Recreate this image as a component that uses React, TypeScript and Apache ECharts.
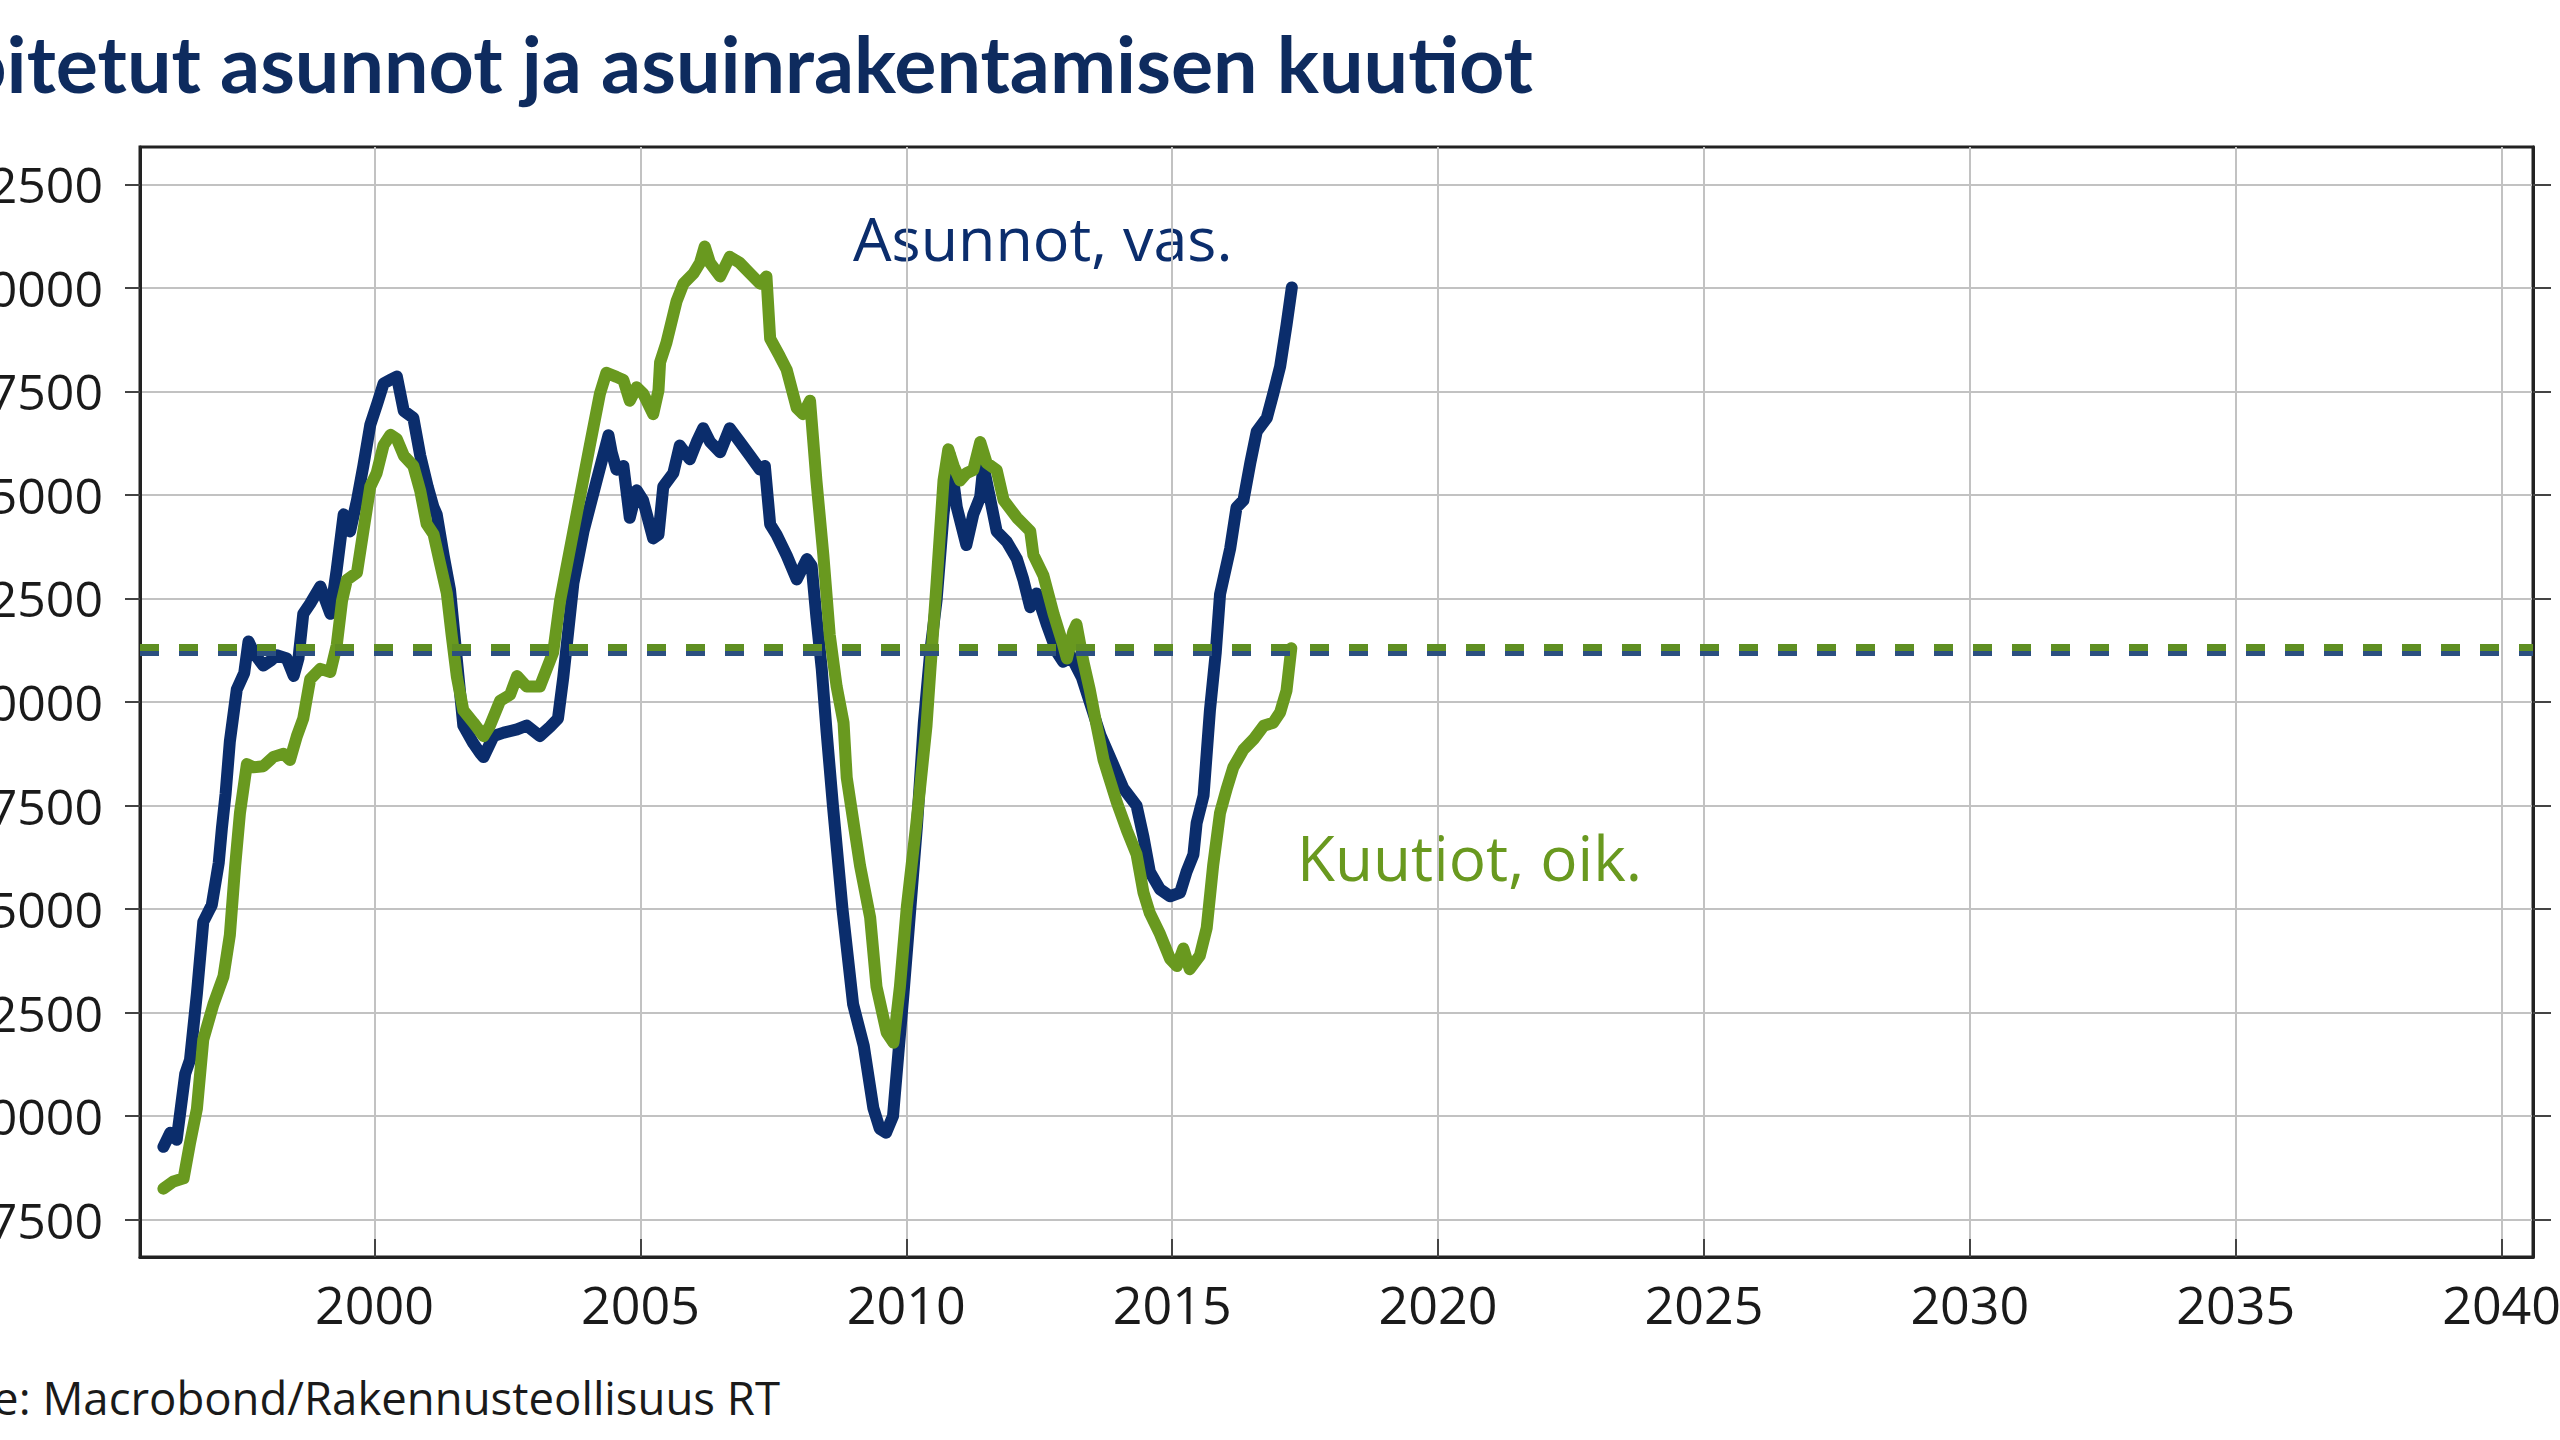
import React, { useEffect, useRef } from "react";
import * as echarts from "echarts";

// Aloitetut asunnot (12 kk summa), vasen akseli
const asunnotYears = [
  1996.03, 1996.16, 1996.28, 1996.44, 1996.53, 1996.66, 1996.78, 1996.94, 1997.07, 1997.13,
  1997.2, 1997.28, 1997.41, 1997.55, 1997.63, 1997.75, 1997.91, 1998.05, 1998.16, 1998.35,
  1998.48, 1998.57, 1998.66, 1998.79, 1998.98, 1999.17, 1999.29, 1999.42, 1999.54, 1999.67,
  1999.79, 1999.92, 2000.05, 2000.17, 2000.3, 2000.42, 2000.55, 2000.73, 2000.86, 2001.0,
  2001.11, 2001.17, 2001.3, 2001.42, 2001.55, 2001.67, 2001.86, 2001.99, 2002.05, 2002.24,
  2002.43, 2002.68, 2002.86, 2003.11, 2003.3, 2003.45, 2003.55, 2003.74, 2003.93, 2004.18,
  2004.4, 2004.46, 2004.55, 2004.68, 2004.8, 2004.93, 2005.05, 2005.24, 2005.34, 2005.43,
  2005.62, 2005.74, 2005.93, 2006.06, 2006.18, 2006.31, 2006.5, 2006.68, 2006.87, 2007.06,
  2007.25, 2007.34, 2007.44, 2007.56, 2007.75, 2007.94, 2008.13, 2008.22, 2008.31, 2008.41,
  2008.5, 2008.62, 2008.8, 2009.0, 2009.2, 2009.38, 2009.5, 2009.62, 2009.75, 2009.85,
  2009.95, 2010.05, 2010.2, 2010.33, 2010.45, 2010.57, 2010.7, 2010.82, 2010.95, 2011.13,
  2011.26, 2011.39, 2011.45, 2011.57, 2011.7, 2011.89, 2012.08, 2012.2, 2012.33, 2012.45,
  2012.64, 2012.83, 2012.95, 2013.1, 2013.3, 2013.5, 2013.65, 2013.83, 2014.08, 2014.33,
  2014.46, 2014.58, 2014.77, 2014.96, 2015.15, 2015.27, 2015.4, 2015.46, 2015.59, 2015.71,
  2015.82, 2015.9, 2016.09, 2016.21, 2016.34, 2016.47, 2016.59, 2016.78, 2016.9, 2017.03,
  2017.15, 2017.25,
];
const asunnotValues = [
  19260, 19600, 19430, 21020, 21360, 22960, 24690, 25100, 26110, 26950,
  27790, 29050, 30300, 30700, 31460, 31150, 30880, 31000, 31130, 31050,
  30630, 31050, 32130, 32375, 32790, 32130, 33200, 34530, 34120, 34870,
  35700, 36690, 37200, 37690, 37780, 37860, 37030, 36860, 35950, 35200,
  34700, 34530, 33540, 32710, 31000, 29430, 29000, 28760, 28670, 29180,
  29260, 29340, 29430, 29180, 29400, 29600, 30600, 32870, 34120, 35360,
  36440, 36030, 35610, 35700, 34450, 35110, 34870, 33950, 34040, 35200,
  35530, 36190, 35860, 36280, 36610, 36280, 36030, 36610, 36280, 35950,
  35610, 35700, 34290, 34040, 33540, 32960, 33450, 33290, 32040, 30800,
  29300, 27500, 25000, 22700, 21700, 20200, 19700, 19600, 20000, 21500,
  23000, 24600, 27000, 29500, 31210, 32460, 34530, 35950, 34700, 33790,
  34530, 34950, 35700, 34950, 34120, 33870, 33450, 32960, 32290, 32620,
  31880, 31210, 30970, 31100, 30600, 29800, 29200, 28670, 27920, 27500,
  26740, 25900, 25480, 25310, 25400, 25900, 26320, 27080, 27740, 29800,
  31200, 32600, 33700, 34700, 34870, 35780, 36530, 36860, 37440, 38100,
  39100, 40010,
];

// Asuinrakentamisen kuutiot (12 kk summa), oikea akseli
const kuutiotYears = [
  1996.03, 1996.22, 1996.41, 1996.53, 1996.66, 1996.78, 1996.97, 1997.16, 1997.28, 1997.38,
  1997.47, 1997.6, 1997.72, 1997.91, 1998.1, 1998.29, 1998.41, 1998.54, 1998.66, 1998.79,
  1998.98, 1999.17, 1999.29, 1999.39, 1999.48, 1999.67, 1999.79, 1999.92, 2000.04, 2000.17,
  2000.3, 2000.42, 2000.55, 2000.73, 2000.86, 2000.98, 2001.11, 2001.24, 2001.36, 2001.45,
  2001.55, 2001.67, 2001.86, 2002.05, 2002.17, 2002.36, 2002.55, 2002.68, 2002.86, 2003.11,
  2003.36, 2003.49, 2003.74, 2004.05, 2004.24, 2004.36, 2004.55, 2004.68, 2004.8, 2004.93,
  2005.05, 2005.24, 2005.34, 2005.37, 2005.49, 2005.68, 2005.81, 2006.0, 2006.12, 2006.21,
  2006.31, 2006.5, 2006.68, 2006.87, 2007.06, 2007.25, 2007.37, 2007.44, 2007.62, 2007.75,
  2007.94, 2008.06, 2008.19, 2008.31, 2008.44, 2008.56, 2008.69, 2008.82, 2008.88, 2009.13,
  2009.32, 2009.44, 2009.63, 2009.76, 2009.88, 2010.01, 2010.19, 2010.38, 2010.45, 2010.57,
  2010.7, 2010.79, 2010.89, 2011.01, 2011.13, 2011.26, 2011.39, 2011.51, 2011.7, 2011.83,
  2012.08, 2012.33, 2012.39, 2012.58, 2012.77, 2012.95, 2013.02, 2013.14, 2013.2, 2013.33,
  2013.45, 2013.58, 2013.71, 2013.96, 2014.15, 2014.33, 2014.46, 2014.58, 2014.77, 2014.96,
  2015.09, 2015.21, 2015.33, 2015.52, 2015.65, 2015.77, 2015.9, 2016.03, 2016.15, 2016.34,
  2016.53, 2016.72, 2016.9, 2017.03, 2017.15, 2017.24,
];
const kuutiotValues = [
  7300, 7370, 7400, 7740, 8070, 8740, 9080, 9350, 9750, 10420,
  10930, 11400, 11370, 11380, 11470, 11500, 11440, 11670, 11840, 12220,
  12320, 12290, 12550, 12980, 13180, 13250, 13650, 14080, 14210, 14480,
  14580, 14540, 14380, 14280, 14040, 13720, 13620, 13320, 13050, 12650,
  12240, 11920, 11800, 11670, 11770, 12010, 12070, 12250, 12150, 12150,
  12480, 12980, 13650, 14480, 14980, 15180, 15140, 15110, 14910, 15040,
  14980, 14780, 15010, 15280, 15470, 15870, 16040, 16140, 16240, 16400,
  16240, 16110, 16300, 16240, 16140, 16040, 16110, 15510, 15340, 15210,
  14840, 14780, 14910, 14140, 13420, 12650, 12150, 11800, 11270, 10420,
  9920, 9250, 8810, 8710, 9250, 10020, 10830, 11770, 12290, 13150,
  14140, 14440, 14280, 14140, 14210, 14240, 14510, 14310, 14240, 13950,
  13780, 13650, 13420, 13220, 12850, 12550, 12420, 12680, 12750, 12390,
  12120, 11770, 11440, 11030, 10760, 10530, 10160, 9960, 9760, 9520,
  9450, 9620, 9420, 9550, 9820, 10420, 10930, 11170, 11370, 11540,
  11640, 11770, 11800, 11900, 12110, 12520,
];

// Pitkän aikavälin keskiarvot (katkoviivat)
const asunnotMean = 31200;
const kuutiotMean = 12530;

const leftTicks = [17500, 20000, 22500, 25000, 27500, 30000, 32500, 35000, 37500, 40000, 42500];
const rightTicks = [7000, 8000, 9000, 10000, 11000, 12000, 13000, 14000, 15000, 16000, 17000];
const yearTicks = [2000, 2005, 2010, 2015, 2020, 2025, 2030, 2035, 2040];

const titleText = "Aloitetut asunnot ja asuinrakentamisen kuutiot";
const asunnotLabel = "Asunnot, vas.";
const kuutiotLabel = "Kuutiot, oik.";
const sourceText = "Lähde: Macrobond/Rakennusteollisuus RT";

const NAVY = "#0b2d6c";
const GREEN = "#69991f";

export default function App() {
  const ref = useRef<HTMLDivElement>(null);

  useEffect(() => {
    if (!ref.current) return;
    const chart = echarts.init(ref.current, null, { renderer: "svg" });
    const blueData = asunnotYears.map((y, i) => [y, asunnotValues[i]]);
    const greenData = kuutiotYears.map((y, i) => [y, kuutiotValues[i]]);

    chart.setOption({
      animation: false,
      backgroundColor: "#ffffff",
      grid: {
        left: 140,
        top: 147,
        right: 27,
        bottom: 183,
        show: true,
        borderColor: "#222222",
        borderWidth: 3,
        containLabel: false,
        outerBoundsMode: "none",
      },
      xAxis: {
        type: "value",
        min: 1995.59,
        max: 2040.59,
        axisLine: { show: true, lineStyle: { color: "#222222", width: 3 } },
        axisTick: {
          show: true,
          inside: true,
          length: 18,
          customValues: yearTicks,
          lineStyle: { color: "#444444", width: 2 },
        },
        axisLabel: {
          customValues: yearTicks,
          formatter: (v: number) => String(Math.round(v)),
          fontFamily: "Open Sans",
          fontSize: 52,
          color: "#1a1a1a",
          margin: 20,
        },
        splitLine: { show: true, lineStyle: { color: "#c2c2c2", width: 2 } },
      },
      yAxis: [
        {
          type: "value",
          position: "left",
          min: 16600,
          max: 43400,
          axisLine: { show: true, lineStyle: { color: "#222222", width: 3 } },
          axisTick: {
            show: true,
            inside: false,
            length: 15,
            customValues: leftTicks,
            lineStyle: { color: "#444444", width: 2 },
          },
          axisLabel: {
            customValues: leftTicks,
            formatter: (v: number) => String(Math.round(v)),
            fontFamily: "Open Sans",
            fontSize: 50,
            color: "#1a1a1a",
            margin: 37,
          },
          splitLine: { show: true, lineStyle: { color: "#c2c2c2", width: 2 } },
        },
        {
          type: "value",
          position: "right",
          min: 6640,
          max: 17360,
          axisLine: { show: true, lineStyle: { color: "#222222", width: 3 } },
          axisTick: {
            show: true,
            inside: false,
            length: 18,
            customValues: rightTicks,
            lineStyle: { color: "#444444", width: 2 },
          },
          axisLabel: { show: false },
          splitLine: { show: false },
        },
      ],
      series: [
        {
          name: asunnotLabel,
          type: "line",
          yAxisIndex: 0,
          data: blueData,
          showSymbol: false,
          symbol: "none",
          lineStyle: { color: NAVY, width: 12, cap: "round", join: "round" },
          z: 3,
          markLine: {
            silent: true,
            symbol: ["none", "none"],
            label: { show: false },
            lineStyle: { color: "#2b4f80", width: 7, type: [19, 20] },
            data: [{ yAxis: asunnotMean }],
          },
        },
        {
          name: kuutiotLabel,
          type: "line",
          yAxisIndex: 1,
          data: greenData,
          showSymbol: false,
          symbol: "none",
          lineStyle: { color: GREEN, width: 12, cap: "round", join: "round" },
          z: 4,
          markLine: {
            silent: true,
            symbol: ["none", "none"],
            label: { show: false },
            lineStyle: { color: "#5f8f22", width: 7, type: [19, 20] },
            data: [{ yAxis: kuutiotMean }],
          },
        },
      ],
      graphic: [
        {
          type: "text",
          x: 1533,
          y: 62,
          style: {
            text: titleText,
            fill: "#0e2b5e",
            fontFamily: "Lato",
            fontWeight: "bold",
            fontSize: 79,
            align: "right",
            verticalAlign: "middle",
          },
        },
        {
          type: "text",
          x: 853,
          y: 237,
          style: {
            text: asunnotLabel,
            fill: NAVY,
            fontFamily: "Open Sans",
            fontSize: 61,
            align: "left",
            verticalAlign: "middle",
          },
        },
        {
          type: "text",
          x: 1297,
          y: 857,
          style: {
            text: kuutiotLabel,
            fill: GREEN,
            fontFamily: "Open Sans",
            fontSize: 62,
            align: "left",
            verticalAlign: "middle",
          },
        },
        {
          type: "text",
          x: 780,
          y: 1397,
          style: {
            text: sourceText,
            fill: "#1a1a1a",
            fontFamily: "Open Sans",
            fontSize: 45.5,
            align: "right",
            verticalAlign: "middle",
          },
        },
      ],
    });

    return () => {
      chart.dispose();
    };
  }, []);

  return (
    <div
      ref={ref}
      style={{ position: "absolute", left: 0, top: 0, width: 2560, height: 1440, background: "#ffffff" }}
    />
  );
}
